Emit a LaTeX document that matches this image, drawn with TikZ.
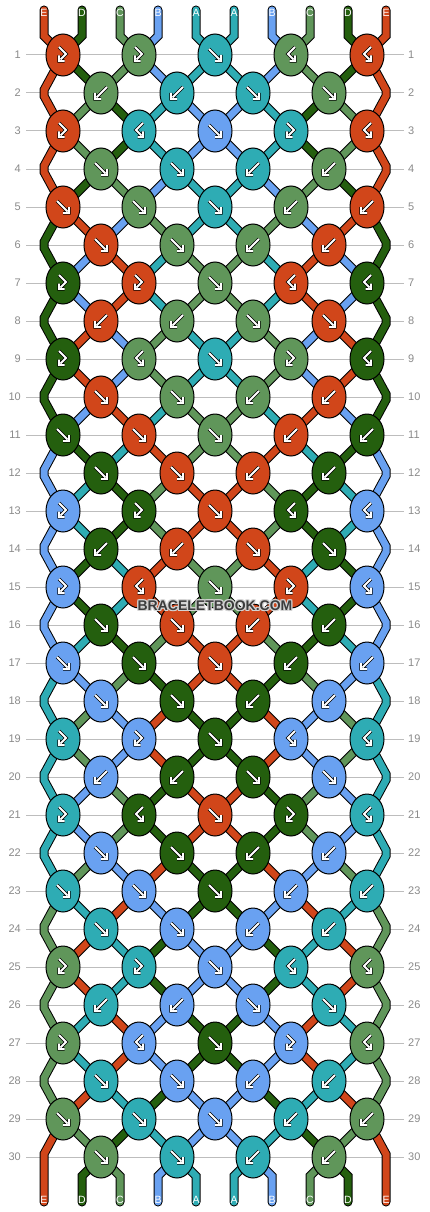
\documentclass[tikz,border=0pt]{standalone}
\usepackage{fontspec}
\setmainfont{Liberation Sans}
\usetikzlibrary{shapes.geometric}
\definecolor{cE}{HTML}{D1461A}
\definecolor{cD}{HTML}{245F0E}
\definecolor{cC}{HTML}{60965A}
\definecolor{cB}{HTML}{69A1F1}
\definecolor{cA}{HTML}{2EACB4}
\definecolor{gridgray}{HTML}{BDBDBD}
\definecolor{labelgray}{HTML}{8A8A8A}
\definecolor{markgray}{HTML}{3C3C3C}
\definecolor{halogray}{HTML}{D4D4D4}
\pgfdeclarelayer{gridlayer}
\pgfdeclarelayer{strandlayer}
\pgfsetlayers{gridlayer,strandlayer,main}

\newcommand{\ArrowStroke}[1]{%
  \draw[line width=3.4pt, black, line cap=square, line join=miter] #1;
  \draw[line width=1.8pt, white, line cap=square, line join=miter] #1;
}
\newcommand{\ArrF}{\ArrowStroke{(-6,-6) -- (4.5,4.5) (0,6) -- (6,6) -- (6,0)}}
\newcommand{\ArrB}{\ArrowStroke{(6,-6) -- (-4.5,4.5) (0,6) -- (-6,6) -- (-6,0)}}
\newcommand{\ArrFB}{\ArrowStroke{(-4,-8) -- (3,-1) -- (-2.5,4.5) (-4,0.5) -- (-4,6) -- (1.5,6)}}
\newcommand{\ArrBF}{\ArrowStroke{(4,-8) -- (-3,-1) -- (2.5,4.5) (4,0.5) -- (4,6) -- (-1.5,6)}}

\tikzset{
  knot/.style={ellipse, draw=black, line width=1pt, fill=#1, minimum width=34pt, minimum height=42pt, inner sep=0pt, outer sep=0pt},
  strand/.style={draw=black, line width=9pt, line join=miter, postaction={draw=#1, line width=7pt}},
  rowline/.style={draw=gridgray, line width=1pt},
  rowlabel/.style={text=labelgray, font=\fontsize{11}{13}\selectfont, inner sep=0pt},
  endlabel/.style={text=white, font=\fontsize{10.5}{12}\selectfont, inner sep=0pt},
  wmhalo/.style={text=halogray, font=\fontsize{14}{16}\selectfont\bfseries, inner sep=0pt},
  wmtext/.style={text=markgray, font=\fontsize{14}{16}\selectfont\bfseries, inner sep=0pt},
  pics/arrF/.style={code=\ArrF}, pics/mB/.style={code=\ArrF},
  pics/arrB/.style={code=\ArrB}, pics/mF/.style={code=\ArrB},
  pics/arrFB/.style={code=\ArrFB}, pics/mBF/.style={code=\ArrFB},
  pics/arrBF/.style={code=\ArrBF}, pics/mFB/.style={code=\ArrBF},
}

\newcommand{\Kn}[4]{%
  \node[knot=c#3] (k#1-#2) at ({63+38*#2},{55+38*(#1-1)}) {};
  \pic at (k#1-#2.center) {#4};
}
\newcommand{\RowO}[6]{%
  \Kn{#1}{0}{#2}{arr#3}
  \Kn{#1}{2}{#4}{arr#5}
  \Kn{#1}{4}{#6}{arrF}
  \Kn{#1}{6}{#4}{m#5}
  \Kn{#1}{8}{#2}{m#3}
}
\newcommand{\RowE}[5]{%
  \Kn{#1}{1}{#2}{arr#3}
  \Kn{#1}{3}{#4}{arr#5}
  \Kn{#1}{5}{#4}{m#5}
  \Kn{#1}{7}{#2}{m#3}
}
\newcommand{\SegO}[6]{%
  \pgfmathtruncatemacro{\rn}{#1+1}
  \draw[strand=c#3] (k#1-0.center) -- (k\rn-1.center);
  \draw[strand=c#4] (k#1-2.center) -- (k\rn-1.center);
  \draw[strand=c#5] (k#1-2.center) -- (k\rn-3.center);
  \draw[strand=c#6] (k#1-4.center) -- (k\rn-3.center);
  \draw[strand=c#6] (k#1-4.center) -- (k\rn-5.center);
  \draw[strand=c#5] (k#1-6.center) -- (k\rn-5.center);
  \draw[strand=c#4] (k#1-6.center) -- (k\rn-7.center);
  \draw[strand=c#3] (k#1-8.center) -- (k\rn-7.center);
  \ifnum#1<29
    \pgfmathtruncatemacro{\rnn}{#1+2}
    \draw[strand=c#2] (k#1-0.center) -- (eLa\rn) -- (eLb\rn) -- (k\rnn-0.center);
    \draw[strand=c#2] (k#1-8.center) -- (eRa\rn) -- (eRb\rn) -- (k\rnn-8.center);
  \fi
}
\newcommand{\SegE}[5]{%
  \pgfmathtruncatemacro{\rn}{#1+1}
  \draw[strand=c#2] (k#1-1.center) -- (k\rn-0.center);
  \draw[strand=c#3] (k#1-1.center) -- (k\rn-2.center);
  \draw[strand=c#4] (k#1-3.center) -- (k\rn-2.center);
  \draw[strand=c#5] (k#1-3.center) -- (k\rn-4.center);
  \draw[strand=c#5] (k#1-5.center) -- (k\rn-4.center);
  \draw[strand=c#4] (k#1-5.center) -- (k\rn-6.center);
  \draw[strand=c#3] (k#1-7.center) -- (k\rn-6.center);
  \draw[strand=c#2] (k#1-7.center) -- (k\rn-8.center);
}

\begin{document}
\begin{tikzpicture}[x=1pt,y=-1pt]
\useasboundingbox (0,0) rectangle (430,1212);

\begin{pgfonlayer}{gridlayer}
  \fill[white] (0,0) rectangle (430,1212);
  \foreach \r in {1,...,30} {
    \draw[rowline] (26,{55+38*(\r-1)}) coordinate (gl\r) -- (404,{55+38*(\r-1)}) coordinate (gr\r);
    \node[rowlabel, anchor=east] (nl\r) at (21,{55+38*(\r-1)}) {\r};
    \node[rowlabel, anchor=west] (nr\r) at (408,{55+38*(\r-1)}) {\r};
  }
\end{pgfonlayer}

% knots
\RowO{1}{E}{FB}{C}{FB}{A}
\RowE{2}{C}{B}{A}{B}
\RowO{3}{E}{FB}{A}{BF}{B}
\RowE{4}{C}{F}{A}{F}
\RowO{5}{E}{F}{C}{F}{A}
\RowE{6}{E}{F}{C}{F}
\RowO{7}{D}{FB}{E}{FB}{C}
\RowE{8}{E}{B}{C}{B}
\RowO{9}{D}{FB}{C}{BF}{A}
\RowE{10}{E}{F}{C}{F}
\RowO{11}{D}{F}{E}{F}{C}
\RowE{12}{D}{F}{E}{F}
\RowO{13}{B}{FB}{D}{FB}{E}
\RowE{14}{D}{B}{E}{B}
\RowO{15}{B}{FB}{E}{BF}{C}
\RowE{16}{D}{F}{E}{F}
\RowO{17}{B}{F}{D}{F}{E}
\RowE{18}{B}{F}{D}{F}
\RowO{19}{A}{FB}{B}{FB}{D}
\RowE{20}{B}{B}{D}{B}
\RowO{21}{A}{FB}{D}{BF}{E}
\RowE{22}{B}{F}{D}{F}
\RowO{23}{A}{F}{B}{F}{D}
\RowE{24}{A}{F}{B}{F}
\RowO{25}{C}{FB}{A}{FB}{B}
\RowE{26}{A}{B}{B}{B}
\RowO{27}{C}{FB}{B}{BF}{D}
\RowE{28}{A}{F}{B}{F}
\RowO{29}{C}{F}{A}{F}{B}
\RowE{30}{C}{F}{A}{F}

\begin{pgfonlayer}{strandlayer}
  \foreach \m in {2,4,...,30} {
    \coordinate (eLa\m) at (44,{55+38*(\m-1)-3});
    \coordinate (eLb\m) at (44,{55+38*(\m-1)+3});
    \coordinate (eRa\m) at (386,{55+38*(\m-1)-3});
    \coordinate (eRb\m) at (386,{55+38*(\m-1)+3});
  }
  % top ends
  \foreach \p/\c/\j in {1/E/0, 2/D/0, 3/C/2, 4/B/2, 5/A/4, 6/A/4, 7/B/6, 8/C/6, 9/D/8, 10/E/8} {
    \coordinate (ta\p) at ({44+38*(\p-1)},10);
    \coordinate (tb\p) at ({44+38*(\p-1)},36);
    \draw[strand=c\c, line cap=round] (ta\p) -- (tb\p) -- (k1-\j.center);
  }
  \SegO{1}{E}{D}{C}{B}{A}
  \SegE{2}{C}{D}{A}{B}
  \SegO{3}{E}{C}{D}{A}{B}
  \SegE{4}{D}{C}{B}{A}
  \SegO{5}{D}{E}{B}{C}{A}
  \SegE{6}{B}{E}{A}{C}
  \SegO{7}{D}{B}{E}{A}{C}
  \SegE{8}{E}{B}{C}{A}
  \SegO{9}{D}{E}{B}{C}{A}
  \SegE{10}{B}{E}{A}{C}
  \SegO{11}{B}{D}{A}{E}{C}
  \SegE{12}{A}{D}{C}{E}
  \SegO{13}{B}{A}{D}{C}{E}
  \SegE{14}{D}{A}{E}{C}
  \SegO{15}{B}{D}{A}{E}{C}
  \SegE{16}{A}{D}{C}{E}
  \SegO{17}{A}{B}{C}{D}{E}
  \SegE{18}{C}{B}{E}{D}
  \SegO{19}{A}{C}{B}{E}{D}
  \SegE{20}{B}{C}{D}{E}
  \SegO{21}{A}{B}{C}{D}{E}
  \SegE{22}{C}{B}{E}{D}
  \SegO{23}{C}{A}{E}{B}{D}
  \SegE{24}{E}{A}{D}{B}
  \SegO{25}{C}{E}{A}{D}{B}
  \SegE{26}{A}{E}{B}{D}
  \SegO{27}{C}{A}{E}{B}{D}
  \SegE{28}{E}{A}{D}{B}
  \SegO{29}{E}{C}{D}{A}{B}
  % bottom ends
  \coordinate (ba1) at (44,1154);  \coordinate (bb1) at (44,1202);
  \coordinate (ba10) at (386,1154); \coordinate (bb10) at (386,1202);
  \draw[strand=cE, line cap=round] (k29-0.center) -- (ba1) -- (bb1);
  \draw[strand=cE, line cap=round] (k29-8.center) -- (ba10) -- (bb10);
  \foreach \p/\c/\j in {2/D/1, 3/C/1, 4/B/3, 5/A/3, 6/A/5, 7/B/5, 8/C/7, 9/D/7} {
    \coordinate (ba\p) at ({44+38*(\p-1)},1176);
    \coordinate (bb\p) at ({44+38*(\p-1)},1202);
    \draw[strand=c\c, line cap=round] (k30-\j.center) -- (ba\p) -- (bb\p);
  }
\end{pgfonlayer}

% end labels
\foreach \p/\c in {1/E, 2/D, 3/C, 4/B, 5/A, 6/A, 7/B, 8/C, 9/D, 10/E} {
  \node[endlabel] (lt\p) at ({44+38*(\p-1)},12.5) {\c};
  \node[endlabel] (lb\p) at ({44+38*(\p-1)},1199.5) {\c};
}

% watermark
\foreach \dx/\dy [count=\i] in {-1/-1,0/-1,1/-1,-1/0,1/0,-1/1,0/1,1/1} {
  \node[wmhalo] (wmh\i) at ({215+\dx},{605.5+\dy}) {BRACELETBOOK.COM};
}
\node[wmtext] (wm) at (215,605.5) {BRACELETBOOK.COM};
\end{tikzpicture}
\end{document}
